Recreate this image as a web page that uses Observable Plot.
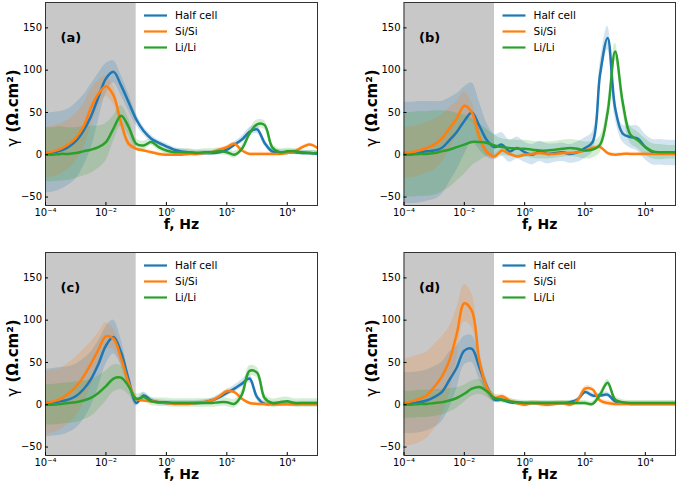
<!DOCTYPE html>
<html><head><meta charset="utf-8">
<script src="https://cdn.jsdelivr.net/npm/d3@7"></script>
<script src="https://cdn.jsdelivr.net/npm/@observablehq/plot@0.6"></script>
<style>
body{margin:0;background:#fff;}
#chart{position:relative;width:678px;height:485px;font-family:"DejaVu Sans",sans-serif;}
#chart svg{position:absolute;}
</style></head><body><div id="chart"></div>
<script>
// log10(frequency) grid
const logF = [-4,-3.75,-3.5,-3.25,-3,-2.75,-2.5,-2.25,-2,-1.75,-1.5,-1.25,-1,-0.75,-0.5,-0.25,0,0.25,0.5,0.75,1,1.25,1.5,1.75,2,2.25,2.5,2.75,3,3.25,3.5,3.75,4,4.25,4.5,4.75,5];
const seriesNames = ["Half cell","Si/Si","Li/Li"];
const seriesColors = ["#1f77b4","#ff7f0e","#2ca02c"];
const panelLabels = ["(a)","(b)","(c)","(d)"];
const xTicks = [1e-4,1e-2,1,1e2,1e4];
const yTicks = [-50,0,50,100,150];
const xDomain = [1e-4,1e5];
const yDomain = [-60,180];
const shadeRange = [1e-4,1e-1];
const xLabel = "f, Hz";
const yLabel = "γ (Ω.cm²)";

// Panel (a)
const halfA    = [2,3,5,9,16,28,45,68,90,98,82,62,42,28,19,14,10,6,4,3,2,2,2,3,6,12,18,27,30,14,4,3,3,3,2,2,1];
const halfA_sd = [47,47,46,45,45,42,38,28,18,13,12,10,7,5,4,3,3,3,3,3,3,3,3,3,3,3,4,5,5,4,3,3,3,3,3,3,3];
const siA      = [2,4,7,12,20,33,55,72,81,70,38,13,7,5,3,1,0,0,0,1,1,2,3,6,9,13,5,1,1,1,1,1,2,4,9,12,8];
const siA_sd   = [30,30,30,29,28,26,22,16,12,10,7,4,2,2,2,2,2,2,2,2,2,2,2,2,2,2,2,2,2,2,2,2,2,2,2,2,2];
const liA      = [0,0,1,1,2,4,6,9,15,31,46,33,13,11,15,9,5,3,3,3,2,3,3,4,3,0,7,25,36,35,9,3,4,4,3,2,2];
const liA_sd   = [32,32,32,31,30,29,28,25,22,15,12,10,6,5,4,4,4,4,4,4,4,4,4,4,4,4,4,5,5,5,4,4,4,3,3,3,3];

// Panel (b)
const halfB    = [2,2,3,4,5,8,17,27,40,50,34,17,9,12,4,8,3,0,4,1,2,3,1,3,8,15,95,138,55,25,21,19,9,3,3,2,2];
const halfB_sd = [60,60,60,59,58,55,50,45,40,35,28,20,15,14,13,13,12,12,12,12,11,11,11,12,12,12,14,14,12,10,13,15,15,15,15,15,15];
const siB      = [2,3,5,8,12,19,31,43,58,50,21,3,-2,5,1,-2,0,1,2,1,1,2,2,3,5,8,9,2,0,1,1,1,1,1,1,1,1];
const siB_sd   = [30,30,30,30,30,28,25,20,16,12,8,4,3,2,2,2,2,2,2,2,2,2,2,2,2,2,2,2,2,2,2,2,2,2,2,2,2];
const liB      = [0,0,1,1,2,4,6,9,12,15,15,14,11,9,8,7,7,6,5,5,6,7,8,7,5,6,12,50,122,62,24,17,9,4,3,3,3];
const liB_sd   = [50,50,50,50,50,48,45,40,35,28,22,16,12,10,10,10,10,10,10,10,10,10,10,10,10,10,10,10,10,10,10,10,10,9,9,8,8];

// Panel (c)
const halfC    = [2,3,4,6,10,18,30,48,70,80,62,30,2,11,5,3,2,2,2,2,2,3,5,9,14,19,25,31,9,1,1,1,1,1,1,1,1];
const halfC_sd = [40,40,40,39,38,36,32,27,22,20,15,8,4,4,3,3,3,3,3,3,3,3,3,3,4,4,5,5,4,3,3,3,3,3,3,3,3];
const siC      = [2,4,7,13,21,33,48,65,81,78,55,26,7,5,4,3,2,1,1,1,2,3,5,10,16,15,7,2,1,1,1,1,1,1,1,1,1];
const siC_sd   = [37,37,36,36,35,32,26,20,16,12,8,5,3,2,2,2,2,2,2,2,2,2,2,2,2,2,2,2,2,2,2,2,2,2,2,2,2];
const liC      = [0,0,1,2,3,5,8,14,22,31,32,22,7,9,4,3,3,2,2,2,2,2,2,3,3,1,12,40,38,8,2,3,4,2,2,2,2];
const liC_sd   = [24,24,24,24,24,23,22,20,18,16,14,10,6,5,5,5,5,5,5,5,5,5,5,5,5,5,5,6,6,5,5,5,5,5,5,5,5];

// Panel (d)
const halfD    = [2,2,3,5,9,15,29,44,64,66,44,21,6,6,3,2,2,2,2,2,2,2,3,6,15,11,11,12,4,2,1,1,1,1,1,1,1];
const halfD_sd = [36,36,36,36,36,35,33,25,17,16,14,8,3,3,2,2,2,2,2,2,2,2,2,2,3,3,3,3,2,2,2,2,2,2,2,2,2];
const siD      = [2,4,7,11,21,33,52,84,120,111,52,20,8,10,5,2,0,2,1,0,1,2,0,5,19,18,5,2,1,1,1,1,1,1,1,1,1];
const siD_sd   = [52,52,52,51,50,47,40,30,22,20,14,8,4,3,3,3,3,3,3,3,3,3,3,3,3,3,3,3,3,3,3,3,3,3,3,3,3];
const liD      = [0,0,1,1,2,3,5,8,13,19,21,16,8,6,4,3,2,2,2,2,2,2,2,2,2,1,12,26,6,3,2,2,2,2,2,2,2];
const liD_sd   = [16,16,16,16,16,15,14,12,10,9,9,7,5,4,3,3,3,3,3,3,3,3,3,3,3,3,3,4,4,3,3,3,3,3,3,3,3];

const panels = [
  {label: panelLabels[0], means: [halfA, siA, liA], sds: [halfA_sd, siA_sd, liA_sd], left: 0, top: 0, w: 339, h: 240, ml: 45, mr: 22, mt: 2, mb: 35},
  {label: panelLabels[1], means: [halfB, siB, liB], sds: [halfB_sd, siB_sd, liB_sd], left: 339, top: 0, w: 339, h: 240, ml: 64.5, mr: 3, mt: 2, mb: 35},
  {label: panelLabels[2], means: [halfC, siC, liC], sds: [halfC_sd, siC_sd, liC_sd], left: 0, top: 240, w: 339, h: 245, ml: 45, mr: 22, mt: 12, mb: 30},
  {label: panelLabels[3], means: [halfD, siD, liD], sds: [halfD_sd, siD_sd, liD_sd], left: 339, top: 240, w: 339, h: 245, ml: 64.5, mr: 3, mt: 12, mb: 30}
];

const sup = {"-":"⁻","0":"⁰","1":"¹","2":"²","3":"³","4":"⁴","5":"⁵","6":"⁶","7":"⁷","8":"⁸","9":"⁹"};
const fmtX = d => "10" + String(Math.round(Math.log10(d))).split("").map(c => sup[c]).join("");
const fmtY = d => d < 0 ? "−" + (-d) : String(d);

function legendMark(index, scales, values, dims) {
  const g = d3.create("svg:g");
  const x0 = dims.marginLeft + 99, y0 = dims.marginTop + 13.5;
  seriesNames.forEach((name, i) => {
    const y = y0 + i * 16;
    g.append("line").attr("x1", x0).attr("x2", x0 + 23).attr("y1", y).attr("y2", y)
      .attr("stroke", scales.color(name)).attr("stroke-width", 2.2);
    g.append("text").attr("x", x0 + 31).attr("y", y).attr("dy", "0.35em")
      .attr("text-anchor", "start").attr("font-size", 10.5).attr("fill", "#000").text(name);
  });
  return g.node();
}

const chart = document.getElementById("chart");
panels.forEach(p => {
  const rows = [];
  seriesNames.forEach((s, k) => {
    logF.forEach((lx, i) => {
      const m = p.means[k][i], sd = p.sds[k][i];
      rows.push({f: Math.pow(10, lx), y: m, lo: m - sd, hi: m + sd, s});
    });
  });
  const svg = Plot.plot({
    width: p.w, height: p.h,
    marginLeft: p.ml, marginRight: p.mr, marginTop: p.mt, marginBottom: p.mb,
    style: {fontFamily: "DejaVu Sans", fontSize: "10px", color: "#000", background: "transparent", overflow: "visible"},
    x: {type: "log", domain: xDomain},
    y: {domain: yDomain},
    color: {domain: seriesNames, range: seriesColors},
    marks: [
      Plot.rect([shadeRange], {x1: d => d[0], x2: d => d[1], fill: "#c8c8c8"}),
      Plot.areaY(rows, {x: "f", y1: "lo", y2: "hi", z: "s", fill: "s", fillOpacity: 0.2, curve: "catmull-rom", clip: true}),
      Plot.line(rows, {x: "f", y: "y", z: "s", stroke: "s", strokeWidth: 2.5, curve: "catmull-rom", clip: true}),
      Plot.frame({stroke: "#333", strokeWidth: 1}),
      Plot.axisX({ticks: xTicks, tickFormat: fmtX, tickSize: -3, tickPadding: 6, label: null}),
      Plot.axisY({ticks: yTicks, tickFormat: fmtY, tickSize: -3, tickPadding: 6.5, label: null}),
      Plot.text([xLabel], {text: d => d, frameAnchor: "bottom", dy: 23.5, fontWeight: "bold", fontSize: 14}),
      Plot.text([yLabel], {text: d => d, frameAnchor: "left", textAnchor: "middle", rotate: -90, dx: -32, dy: 4, fontWeight: "bold", fontSize: 15, className: "ylab"}),
      Plot.text([p.label], {text: d => d, frameAnchor: "top-left", textAnchor: "start", dx: 15, dy: 30, fontWeight: "bold", fontSize: 13}),
      legendMark
    ]
  });
  // gamma drawn in regular weight, rest bold (as in the reference)
  d3.select(svg).selectAll(".ylab text").each(function() {
    const t = d3.select(this);
    const s = t.text();
    t.text(null);
    t.append("tspan").attr("font-weight", "normal").text(s.slice(0, 1));
    t.append("tspan").text(s.slice(1));
  });
  svg.style.left = p.left + "px";
  svg.style.top = p.top + "px";
  chart.appendChild(svg);
});
</script>
</body></html>
